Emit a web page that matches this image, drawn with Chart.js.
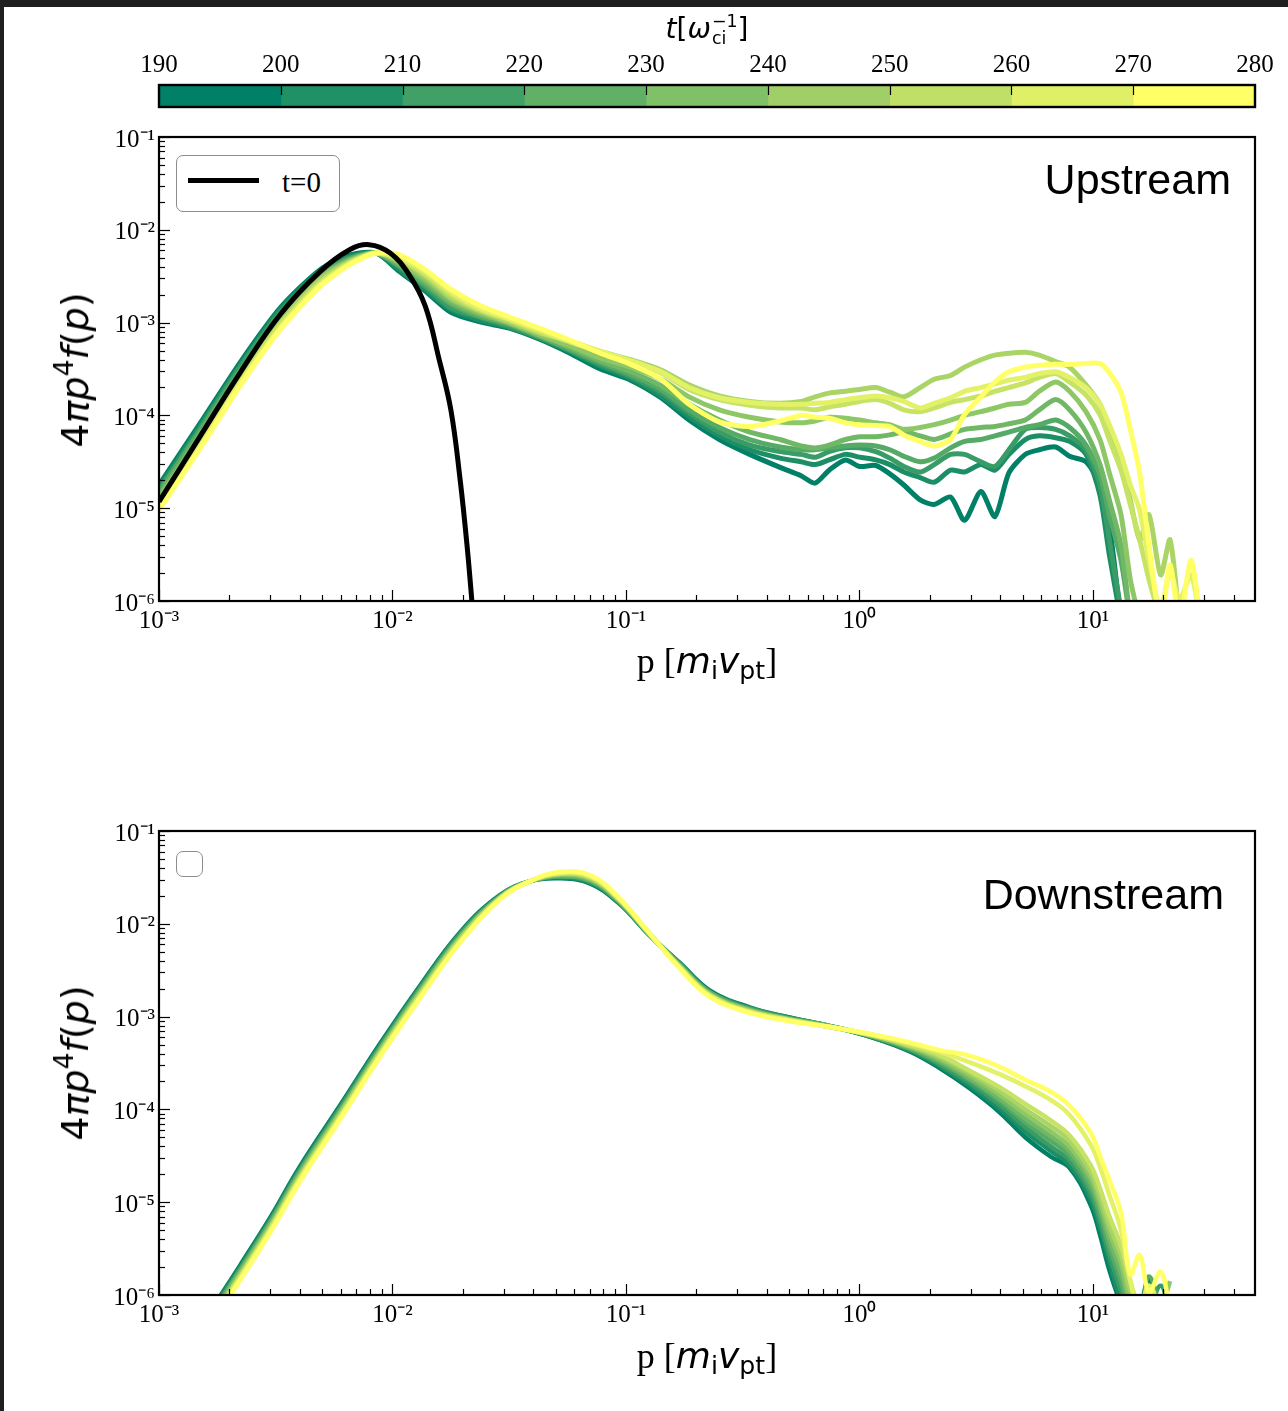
<!DOCTYPE html>
<html>
<head>
<meta charset="utf-8">
<script src="https://cdn.jsdelivr.net/npm/chart.js@4.4.0/dist/chart.umd.min.js"></script>
<style>
html, body { margin: 0; padding: 0; background: #fff; }
body { width: 1288px; height: 1411px; position: relative; overflow: hidden; }
.edge { position: absolute; background: #1f1f1f; }
canvas { position: absolute; left: 0; }
.txt { position: absolute; white-space: nowrap; color: #000; line-height: 1; }
.sans { font-family: 'DejaVu Sans', sans-serif; }
.serif { font-family: 'Liberation Serif', serif; }
.ytitle { font-family: 'DejaVu Sans', sans-serif; font-size: 38px; transform: translate(-50%, -50%) rotate(-90deg); }
.ytitle sup { font-size: 70%; vertical-align: 0.55em; line-height: 0; font-style: normal; }
.xtitle { font-size: 36px; transform: translate(-50%, -50%); }
.xtitle sub { font-family: 'DejaVu Sans', sans-serif; font-size: 70%; vertical-align: -0.25em; line-height: 0; }
.region { font-family: 'Liberation Sans', Arial, sans-serif; font-size: 43px; }
.legend { position: absolute; border: 1.5px solid #8c8c8c; border-radius: 7px; background: #fff; box-sizing: border-box; }
.stack { display: inline-flex; flex-direction: column; vertical-align: middle; font-size: 62%; line-height: 1; font-style: normal; margin-left: 1px; }
</style>
</head>
<body>
<div class="edge" style="left:0;top:0;width:1288px;height:7px"></div>
<div class="edge" style="left:0;top:0;width:4px;height:1411px"></div>

<canvas id="cbar" width="1288" height="75" style="top:40px"></canvas>
<canvas id="upper" width="1288" height="540" style="top:110px"></canvas>
<canvas id="lower" width="1288" height="540" style="top:804px"></canvas>

<!-- colorbar title -->
<div class="txt sans" style="left:707px;top:30px;font-size:28px;transform:translate(-50%,-50%)"><i>t</i>[<i>ω</i><span class="stack"><span>−1</span><span>ci</span></span>]</div>

<!-- upper panel texts -->
<div class="legend" style="left:176px;top:155px;width:164px;height:57px">
  <div style="position:absolute;left:11px;top:22px;width:71px;height:5px;background:#000"></div>
  <div class="txt serif" style="left:105px;top:12px;font-size:29px">t=0</div>
</div>
<div class="txt region" style="right:57px;top:158px">Upstream</div>
<div class="txt ytitle" style="left:75px;top:370px">4<i>πp</i><sup>4</sup><i>f</i>(<i>p</i>)</div>
<div class="txt xtitle" style="left:707px;top:661px"><span class="serif">p [</span><i class="sans">m</i><sub>i</sub><i class="sans">v</i><sub>pt</sub><span class="serif">]</span></div>

<!-- lower panel texts -->
<div class="legend" style="left:176px;top:851px;width:27px;height:26px"></div>
<div class="txt region" style="right:64px;top:873px">Downstream</div>
<div class="txt ytitle" style="left:75px;top:1063px">4<i>πp</i><sup>4</sup><i>f</i>(<i>p</i>)</div>
<div class="txt xtitle" style="left:707px;top:1356px"><span class="serif">p [</span><i class="sans">m</i><sub>i</sub><i class="sans">v</i><sub>pt</sub><span class="serif">]</span></div>

<script>
// colorbar ticks (time in 1/omega_ci)
const cbTicks = [190, 200, 210, 220, 230, 240, 250, 260, 270, 280];
const times = [190, 200, 210, 220, 230, 240, 250, 260, 270, 280];

// log10(p) grid and log10(4 pi p^4 f) values
const t0LogP = [-3.00, -2.82, -2.65, -2.48, -2.31, -2.18, -2.10, -2.01, -1.93, -1.86, -1.80, -1.75, -1.71, -1.68, -1.655];
const t0LogF = [-4.93, -4.21, -3.53, -2.91, -2.45, -2.21, -2.16, -2.25, -2.48, -2.82, -3.40, -3.94, -4.70, -5.42, -6.15];

const upLogP = [-3.00, -2.82, -2.65, -2.48, -2.31, -2.18, -2.07, -1.97, -1.86, -1.75, -1.63, -1.50, -1.37, -1.24, -1.11, -0.98, -0.85, -0.73, -0.60, -0.47, -0.34,
  -0.25, -0.19, -0.13, -0.06, 0.00, 0.07, 0.13, 0.19, 0.26, 0.32, 0.39, 0.45, 0.52, 0.58, 0.64, 0.71, 0.77, 0.84, 0.90, 0.97, 1.03,
  1.07, 1.12, 1.16, 1.20, 1.24, 1.29, 1.33, 1.37, 1.42, 1.46];

const up190 = [-4.75, -4.07, -3.42, -2.84, -2.43, -2.27, -2.25, -2.45, -2.66, -2.89, -2.99, -3.06, -3.18, -3.33, -3.50, -3.62, -3.81, -4.05, -4.26, -4.42, -4.56,
  -4.65, -4.73, -4.59, -4.48, -4.55, -4.54, -4.63, -4.75, -4.91, -4.96, -4.88, -5.13, -4.82, -5.09, -4.62, -4.42, -4.37, -4.34, -4.44, -4.50, -4.75, -5.18, -6.21];
const up200 = [-4.78, -4.10, -3.45, -2.86, -2.45, -2.29, -2.25, -2.43, -2.64, -2.86, -2.97, -3.05, -3.17, -3.31, -3.47, -3.60, -3.79, -4.01, -4.22, -4.37, -4.46,
  -4.50, -4.53, -4.48, -4.42, -4.45, -4.48, -4.53, -4.61, -4.67, -4.72, -4.59, -4.61, -4.53, -4.59, -4.42, -4.26, -4.22, -4.24, -4.28, -4.42, -4.86, -5.50, -6.21];
const up210 = [-4.81, -4.13, -3.47, -2.89, -2.47, -2.30, -2.25, -2.40, -2.61, -2.84, -2.94, -3.04, -3.16, -3.30, -3.45, -3.58, -3.75, -3.97, -4.18, -4.32, -4.39,
  -4.42, -4.45, -4.39, -4.35, -4.35, -4.39, -4.46, -4.55, -4.61, -4.53, -4.42, -4.42, -4.50, -4.55, -4.37, -4.15, -4.13, -4.15, -4.22, -4.37, -4.75, -5.34, -6.10];
const up220 = [-4.83, -4.15, -3.51, -2.91, -2.49, -2.31, -2.25, -2.39, -2.59, -2.80, -2.93, -3.02, -3.15, -3.29, -3.43, -3.56, -3.72, -3.94, -4.13, -4.26, -4.34,
  -4.37, -4.37, -4.35, -4.33, -4.32, -4.33, -4.37, -4.44, -4.50, -4.46, -4.35, -4.28, -4.26, -4.22, -4.18, -4.13, -4.10, -4.05, -4.13, -4.32, -4.64, -5.07, -5.56, -6.21];
const up230 = [-4.87, -4.19, -3.53, -2.94, -2.51, -2.32, -2.25, -2.37, -2.56, -2.78, -2.91, -3.01, -3.14, -3.27, -3.41, -3.53, -3.68, -3.88, -4.05, -4.18, -4.26,
  -4.33, -4.35, -4.32, -4.26, -4.23, -4.23, -4.21, -4.18, -4.22, -4.26, -4.20, -4.15, -4.13, -4.12, -4.09, -4.05, -3.94, -3.83, -3.94, -4.18, -4.53, -4.91, -5.40, -6.21];
const up240 = [-4.90, -4.22, -3.56, -2.97, -2.52, -2.33, -2.25, -2.35, -2.53, -2.75, -2.89, -3.00, -3.13, -3.25, -3.38, -3.48, -3.61, -3.80, -3.94, -4.02, -4.07,
  -4.08, -4.06, -4.02, -4.03, -4.05, -4.08, -4.10, -4.15, -4.13, -4.10, -4.05, -4.00, -3.96, -3.92, -3.88, -3.86, -3.74, -3.64, -3.74, -3.96, -4.26, -4.62, -5.07, -5.77, -6.21];
const up250 = [-4.93, -4.25, -3.58, -3.00, -2.54, -2.34, -2.25, -2.33, -2.50, -2.73, -2.87, -2.99, -3.11, -3.20, -3.31, -3.40, -3.51, -3.67, -3.79, -3.85, -3.87,
  -3.85, -3.80, -3.76, -3.74, -3.72, -3.70, -3.75, -3.80, -3.70, -3.61, -3.57, -3.48, -3.40, -3.35, -3.33, -3.32, -3.35, -3.42, -3.48, -3.67, -3.88,
  -4.15, -4.53, -4.91, -5.34, -5.07, -5.72, -5.34, -6.21];
const up260 = [-4.95, -4.27, -3.61, -3.02, -2.57, -2.35, -2.25, -2.32, -2.48, -2.70, -2.86, -2.97, -3.10, -3.21, -3.32, -3.42, -3.54, -3.72, -3.83, -3.89, -3.92,
  -3.92, -3.94, -3.91, -3.88, -3.85, -3.83, -3.87, -3.94, -3.96, -3.92, -3.86, -3.83, -3.79, -3.74, -3.70, -3.65, -3.59, -3.55, -3.64, -3.78, -3.99,
  -4.26, -4.59, -4.96, -5.34, -5.77, -6.21];
const up270 = [-4.99, -4.31, -3.64, -3.05, -2.59, -2.36, -2.25, -2.30, -2.45, -2.67, -2.84, -2.96, -3.08, -3.20, -3.31, -3.41, -3.53, -3.70, -3.81, -3.86, -3.88,
  -3.88, -3.87, -3.86, -3.83, -3.81, -3.79, -3.81, -3.85, -3.92, -3.87, -3.81, -3.74, -3.70, -3.66, -3.62, -3.59, -3.55, -3.53, -3.59, -3.70, -3.88,
  -4.10, -4.42, -4.75, -5.02, -5.56, -6.10, -5.67, -5.99, -5.72, -6.21];
const up280 = [-5.02, -4.34, -3.67, -3.07, -2.61, -2.37, -2.25, -2.27, -2.43, -2.64, -2.81, -2.94, -3.06, -3.19, -3.33, -3.45, -3.61, -3.88, -4.07, -4.12, -4.06,
  -4.00, -4.02, -4.03, -4.08, -4.10, -4.11, -4.12, -4.21, -4.28, -4.33, -4.26, -3.99, -3.80, -3.64, -3.53, -3.48, -3.46, -3.45, -3.45, -3.44, -3.44,
  -3.54, -3.75, -4.15, -4.62, -5.40, -6.21, -5.61, -6.21, -5.56, -6.21];

const downLogP = [-2.74, -2.65, -2.52, -2.40, -2.22, -2.05, -1.88, -1.71, -1.54, -1.41, -1.28, -1.15, -1.03, -0.90, -0.77, -0.64, -0.47, -0.30, -0.13, 0.05,
  0.22, 0.34, 0.47, 0.60, 0.71, 0.82, 0.90, 0.99, 1.03, 1.07, 1.12, 1.16, 1.20, 1.24, 1.29, 1.33];

const down190 = [-6.02, -5.67, -5.15, -4.63, -3.94, -3.28, -2.66, -2.09, -1.69, -1.54, -1.51, -1.57, -1.78, -2.12, -2.42, -2.72, -2.90, -3.01, -3.10, -3.22,
  -3.38, -3.55, -3.77, -4.03, -4.30, -4.51, -4.63, -5.03, -5.35, -5.73, -6.11, null, -6.2, -5.85, -6.2];
const down200 = [-6.04, -5.69, -5.17, -4.65, -3.96, -3.30, -2.67, -2.10, -1.70, -1.54, -1.50, -1.56, -1.77, -2.12, -2.43, -2.73, -2.91, -3.01, -3.10, -3.22,
  -3.37, -3.53, -3.74, -3.99, -4.24, -4.45, -4.60, -4.97, -5.27, -5.64, -6.05, -6.2];
const down210 = [-6.06, -5.71, -5.19, -4.67, -3.97, -3.31, -2.69, -2.11, -1.70, -1.54, -1.49, -1.55, -1.77, -2.12, -2.43, -2.74, -2.91, -3.02, -3.10, -3.21,
  -3.36, -3.51, -3.71, -3.95, -4.19, -4.40, -4.55, -4.91, -5.20, -5.56, -5.95, -6.2, null, -6.2, -5.9, -6.2];
const down220 = [-6.07, -5.72, -5.20, -4.68, -3.99, -3.33, -2.70, -2.13, -1.71, -1.54, -1.49, -1.54, -1.76, -2.11, -2.44, -2.74, -2.92, -3.02, -3.10, -3.21,
  -3.35, -3.49, -3.68, -3.91, -4.14, -4.34, -4.50, -4.85, -5.13, -5.48, -5.85, -6.2, -6.2, -5.8, -6.2];
const down230 = [-6.09, -5.74, -5.22, -4.70, -4.01, -3.34, -2.72, -2.14, -1.71, -1.54, -1.48, -1.53, -1.75, -2.11, -2.45, -2.75, -2.93, -3.03, -3.10, -3.21,
  -3.34, -3.47, -3.66, -3.88, -4.10, -4.29, -4.45, -4.79, -5.06, -5.40, -5.76, -6.15];
const down240 = [-6.11, -5.76, -5.24, -4.72, -4.02, -3.36, -2.73, -2.15, -1.72, -1.54, -1.47, -1.52, -1.75, -2.11, -2.45, -2.76, -2.93, -3.03, -3.11, -3.20,
  -3.33, -3.45, -3.63, -3.84, -4.05, -4.24, -4.40, -4.73, -5.00, -5.32, -5.66, -6.05, -6.2, null, -6.2, -5.85];
const down250 = [-6.13, -5.78, -5.26, -4.74, -4.04, -3.37, -2.75, -2.16, -1.72, -1.54, -1.46, -1.51, -1.74, -2.11, -2.46, -2.77, -2.94, -3.03, -3.11, -3.20,
  -3.32, -3.43, -3.60, -3.80, -4.00, -4.18, -4.34, -4.67, -4.93, -5.24, -5.57, -5.95, -6.2, -5.9, -6.2];
const down260 = [-6.14, -5.79, -5.27, -4.75, -4.06, -3.39, -2.76, -2.18, -1.73, -1.54, -1.46, -1.50, -1.73, -2.10, -2.47, -2.77, -2.95, -3.04, -3.11, -3.20,
  -3.31, -3.41, -3.58, -3.76, -3.94, -4.12, -4.28, -4.60, -4.85, -5.15, -5.47, -5.85, -6.2];
const down270 = [-6.16, -5.81, -5.29, -4.77, -4.07, -3.40, -2.78, -2.19, -1.73, -1.54, -1.45, -1.49, -1.73, -2.10, -2.47, -2.78, -2.95, -3.04, -3.11, -3.19,
  -3.29, -3.38, -3.49, -3.62, -3.75, -3.90, -4.06, -4.38, -4.62, -4.92, -5.30, -5.85, -6.15, -5.9, -6.2];
const down280 = [-6.18, -5.83, -5.31, -4.79, -4.09, -3.42, -2.79, -2.20, -1.74, -1.54, -1.44, -1.48, -1.72, -2.10, -2.48, -2.79, -2.96, -3.05, -3.11, -3.19,
  -3.28, -3.36, -3.42, -3.54, -3.68, -3.81, -3.96, -4.25, -4.50, -4.76, -5.11, -5.78, -5.57, -5.97, -5.75, -6.16];

const upSeries = [up190, up200, up210, up220, up230, up240, up250, up260, up270, up280];
const downSeries = [down190, down200, down210, down220, down230, down240, down250, down260, down270, down280];

// summer colormap
const lineColors = ['rgb(0,128,102)', 'rgb(28,142,102)', 'rgb(57,156,102)', 'rgb(85,170,102)', 'rgb(113,184,102)',
  'rgb(142,199,102)', 'rgb(170,213,102)', 'rgb(198,227,102)', 'rgb(227,241,102)', 'rgb(255,255,102)'];
const cbColors = ['rgb(0,128,102)', 'rgb(32,144,102)', 'rgb(64,160,102)', 'rgb(96,176,102)', 'rgb(128,192,102)',
  'rgb(159,207,102)', 'rgb(191,223,102)', 'rgb(223,239,102)', 'rgb(255,255,102)'];

Chart.defaults.font.family = "'Liberation Serif', serif";
Chart.defaults.color = '#000';

const supMap = { '-': '⁻', '0': '⁰', '1': '¹', '2': '²', '3': '³', '4': '⁴', '5': '⁵', '6': '⁶' };
const powLabel = v => '10' + String(Math.round(Math.log10(v))).split('').map(c => supMap[c]).join('');

function toPoints(logP, logF) {
  return logF.map((v, i) => ({ x: Math.pow(10, logP[i]), y: v === null ? null : Math.pow(10, v) }));
}

// inward ticks + frame, matplotlib style
const axesFrame = {
  id: 'axesFrame',
  afterDatasetsDraw(chart) {
    const { ctx, chartArea: a, scales: { x, y } } = chart;
    ctx.save();
    ctx.strokeStyle = '#000';
    ctx.lineWidth = 1.2;
    for (let d = -6; d <= 2; d++) {
      for (let m = 1; m <= 9; m++) {
        const v = m * Math.pow(10, d);
        const len = m === 1 ? 11 : 6;
        if (v >= x.min * 0.999 && v <= x.max) {
          const px = Math.round(x.getPixelForValue(v)) + 0.5;
          ctx.beginPath(); ctx.moveTo(px, a.bottom); ctx.lineTo(px, a.bottom - len); ctx.stroke();
        }
        if (v >= y.min * 0.999 && v <= y.max * 1.001) {
          const py = Math.round(y.getPixelForValue(v)) + 0.5;
          ctx.beginPath(); ctx.moveTo(a.left, py); ctx.lineTo(a.left + len, py); ctx.stroke();
        }
      }
    }
    ctx.lineWidth = 2.2;
    ctx.strokeRect(a.left, a.top, a.right - a.left, a.bottom - a.top);
    ctx.restore();
  }
};

function makePanel(id, logP, series, lineWidth, tension, withT0) {
  const datasets = series.map((s, k) => ({
    data: toPoints(logP, s),
    borderColor: lineColors[k],
    borderWidth: lineWidth,
    pointRadius: 0,
    tension: tension,
    clip: 0,
    order: 10 - k
  }));
  if (withT0) {
    datasets.push({
      data: toPoints(t0LogP, t0LogF),
      borderColor: '#000',
      borderWidth: 5,
      pointRadius: 0,
      tension: 0.4,
      clip: 0,
      order: 0
    });
  }
  return new Chart(document.getElementById(id), {
    type: 'line',
    data: { datasets },
    options: {
      responsive: false,
      animation: false,
      devicePixelRatio: 1,
      layout: { padding: { left: 0, right: 33, top: 27, bottom: 0 } },
      plugins: { legend: { display: false }, tooltip: { enabled: false } },
      scales: {
        x: {
          type: 'logarithmic',
          min: 1e-3,
          max: Math.pow(10, 1.694),
          afterBuildTicks: s => { s.ticks = [1e-3, 1e-2, 1e-1, 1, 10].map(v => ({ value: v })); },
          afterFit: s => { s.height = 49; },
          grid: { display: false, drawTicks: false },
          border: { display: false },
          ticks: { callback: powLabel, font: { size: 25 }, padding: 5, maxRotation: 0, autoSkip: false }
        },
        y: {
          type: 'logarithmic',
          min: 1e-6,
          max: 1e-1,
          afterBuildTicks: s => { s.ticks = [1e-6, 1e-5, 1e-4, 1e-3, 1e-2, 1e-1].map(v => ({ value: v })); },
          afterFit: s => { s.width = 159; },
          grid: { display: false, drawTicks: false },
          border: { display: false },
          ticks: { callback: powLabel, font: { size: 25 }, padding: 4, labelOffset: 3, autoSkip: false }
        }
      }
    },
    plugins: [axesFrame]
  });
}

// colorbar drawn as floating bars on a linear time axis
const cbFrame = {
  id: 'cbFrame',
  afterDatasetsDraw(chart) {
    const { ctx, chartArea: a, scales: { x } } = chart;
    ctx.save();
    ctx.strokeStyle = '#000';
    ctx.lineWidth = 1.2;
    cbTicks.slice(1, -1).forEach(v => {
      const px = Math.round(x.getPixelForValue(v)) + 0.5;
      ctx.beginPath(); ctx.moveTo(px, a.top); ctx.lineTo(px, a.top + 10); ctx.stroke();
    });
    ctx.lineWidth = 2.4;
    ctx.strokeRect(a.left, a.top, a.right - a.left, a.bottom - a.top);
    ctx.restore();
  }
};

new Chart(document.getElementById('cbar'), {
  type: 'bar',
  data: {
    labels: ['t'],
    datasets: cbColors.map((c, i) => ({
      data: [[cbTicks[i], cbTicks[i + 1]]],
      backgroundColor: c,
      borderWidth: 0,
      barPercentage: 1,
      categoryPercentage: 1,
      grouped: false
    }))
  },
  options: {
    indexAxis: 'y',
    responsive: false,
    animation: false,
    devicePixelRatio: 1,
    layout: { padding: { left: 159, right: 33, top: 0, bottom: 8 } },
    plugins: { legend: { display: false }, tooltip: { enabled: false } },
    scales: {
      x: {
        type: 'linear',
        position: 'top',
        min: 190,
        max: 280,
        afterBuildTicks: s => { s.ticks = cbTicks.map(v => ({ value: v })); },
        afterFit: s => { s.height = 45; },
        grid: { display: false, drawTicks: false },
        border: { display: false },
        ticks: { font: { size: 25 }, padding: 5, maxRotation: 0, autoSkip: false }
      },
      y: { display: false }
    }
  },
  plugins: [cbFrame]
});

makePanel('upper', upLogP, upSeries, 5, 0.25, true);
makePanel('lower', downLogP, downSeries, 4.5, 0.4, false);
</script>
</body>
</html>
